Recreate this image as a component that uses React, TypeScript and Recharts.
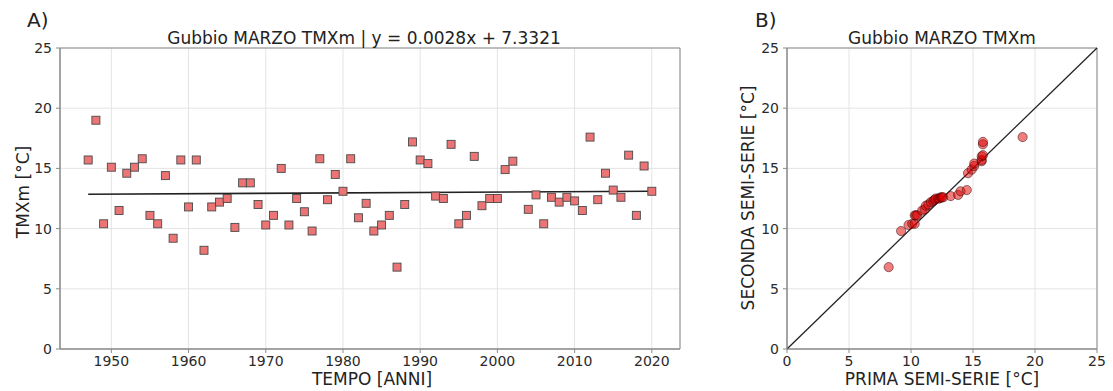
import React from 'react';
import { ComposedChart, Scatter, XAxis, YAxis, CartesianGrid, ReferenceLine, ReferenceArea } from 'recharts';

const years = [1947,1948,1949,1950,1951,1952,1953,1954,1955,1956,1957,1958,1959,1960,1961,1962,1963,1964,1965,1966,1967,1968,1969,1970,1971,1972,1973,1974,1975,1976,1977,1978,1979,1980,1981,1982,1983,1984,1985,1986,1987,1988,1989,1990,1991,1992,1993,1994,1995,1996,1997,1998,1999,2000,2001,2002,2004,2005,2006,2007,2008,2009,2010,2011,2012,2013,2014,2015,2016,2017,2018,2019,2020];
const tmxm = [15.7,19.0,10.4,15.1,11.5,14.6,15.1,15.8,11.1,10.4,14.4,9.2,15.7,11.8,15.7,8.2,11.8,12.2,12.5,10.1,13.8,13.8,12.0,10.3,11.1,15.0,10.3,12.5,11.4,9.8,15.8,12.4,14.5,13.1,15.8,10.9,12.1,9.8,10.3,11.1,6.8,12.0,17.2,15.7,15.4,12.7,12.5,17.0,10.4,11.1,16.0,11.9,12.5,12.5,14.9,15.6,11.6,12.8,10.4,12.6,12.2,12.6,12.3,11.5,17.6,12.4,14.6,13.2,12.6,16.1,11.1,15.2,13.1];

const trendYears = [1947, 2020];
const trendValues = [12.85, 13.1];

const primaSemiSerie = [8.2,9.2,9.8,10.1,10.3,10.3,10.4,10.5,10.9,11.1,11.2,11.4,11.6,11.8,11.9,12.0,12.2,12.3,12.4,12.5,12.6,13.2,13.8,14.0,14.5,14.6,14.9,15.1,15.1,15.7,15.7,15.7,15.8,15.8,15.8,19.0];
const secondaSemiSerie = [6.8,9.8,10.3,10.4,10.4,11.1,11.1,11.1,11.5,11.6,11.9,12.0,12.2,12.3,12.4,12.5,12.5,12.5,12.6,12.6,12.6,12.7,12.8,13.1,13.2,14.6,14.9,15.2,15.4,15.6,15.7,16.0,16.1,17.0,17.2,17.6];

const yearTicks = [1950,1960,1970,1980,1990,2000,2010,2020];
const valueTicks = [0,5,10,15,20,25];

const seriesData = years.map((y, i) => ({ x: y, y: tmxm[i] }));
const qqData = primaSemiSerie.map((p, i) => ({ x: p, y: secondaSemiSerie[i] }));

const FONT = 'DejaVu Sans, sans-serif';
const tickStyle = { fontSize: 14, fill: '#2a2a2a', fontFamily: FONT };
const AXIS = '#8a8a8a';
const GRID = '#e4e4e4';

const Square = (props: any) => {
  const { cx, cy } = props;
  if (cx == null || cy == null) return null;
  return <rect x={cx - 4} y={cy - 4} width={8} height={8} fill="#ec7474" stroke="#4a4a4a" strokeWidth={0.9} />;
};

const Dot = (props: any) => {
  const { cx, cy } = props;
  if (cx == null || cy == null) return null;
  return <circle cx={cx} cy={cy} r={4.6} fill="#e00000" fillOpacity={0.5} stroke="#300000" strokeOpacity={0.55} strokeWidth={0.9} />;
};

const textBase: React.CSSProperties = { position: 'absolute', fontFamily: FONT, color: '#222', whiteSpace: 'nowrap', lineHeight: 1 };

export default function App() {
  return (
    <div style={{ position: 'absolute', left: 0, top: 0, width: 1113, height: 391, background: '#fff' }}>
      <div style={{ position: 'absolute', left: 0, top: 0 }}>
        <ComposedChart width={700} height={391} margin={{ top: 48, right: 20, bottom: 12, left: 0 }}>
          <CartesianGrid stroke={GRID} />
          <XAxis type="number" dataKey="x" domain={[1943.35, 2023.65]} ticks={yearTicks} allowDataOverflow
            tick={tickStyle} tickSize={4} tickMargin={3} stroke={AXIS} height={30} />
          <YAxis type="number" dataKey="y" domain={[0, 25]} ticks={valueTicks} allowDataOverflow
            tick={tickStyle} tickSize={4} tickMargin={4} stroke={AXIS} width={60} />
          <ReferenceArea x1={1943.35} x2={2023.65} y1={0} y2={25} fill="none" stroke={AXIS} strokeWidth={1} ifOverflow="visible" />
          <ReferenceLine segment={[{ x: trendYears[0], y: trendValues[0] }, { x: trendYears[1], y: trendValues[1] }]} stroke="#222" strokeWidth={1.6} ifOverflow="visible" />
          <Scatter data={seriesData} shape={Square} isAnimationActive={false} />
        </ComposedChart>
      </div>
      <div style={{ position: 'absolute', left: 700, top: 0 }}>
        <ComposedChart width={413} height={391} margin={{ top: 48, right: 16, bottom: 12, left: 0 }}>
          <CartesianGrid stroke={GRID} />
          <XAxis type="number" dataKey="x" domain={[0, 25]} ticks={valueTicks} allowDataOverflow
            tick={tickStyle} tickSize={4} tickMargin={3} stroke={AXIS} height={30} />
          <YAxis type="number" dataKey="y" domain={[0, 25]} ticks={valueTicks} allowDataOverflow
            tick={tickStyle} tickSize={4} tickMargin={4} stroke={AXIS} width={87} />
          <ReferenceArea x1={0} x2={25} y1={0} y2={25} fill="none" stroke={AXIS} strokeWidth={1} ifOverflow="visible" />
          <ReferenceLine segment={[{ x: 0, y: 0 }, { x: 25, y: 25 }]} stroke="#222" strokeWidth={1.3} ifOverflow="visible" />
          <Scatter data={qqData} shape={Dot} isAnimationActive={false} />
        </ComposedChart>
      </div>

      <div style={{ ...textBase, left: 27, top: 10, fontSize: 20 }}>A)</div>
      <div style={{ ...textBase, left: 755, top: 10, fontSize: 20 }}>B)</div>
      <div style={{ ...textBase, left: 364, top: 30, fontSize: 17, transform: 'translateX(-50%)' }}>Gubbio MARZO TMXm | y = 0.0028x + 7.3321</div>
      <div style={{ ...textBase, left: 942, top: 30, fontSize: 17, transform: 'translateX(-50%)' }}>Gubbio MARZO TMXm</div>
      <div style={{ ...textBase, left: 372, top: 371, fontSize: 17, transform: 'translateX(-50%)' }}>TEMPO [ANNI]</div>
      <div style={{ ...textBase, left: 942, top: 371, fontSize: 17, transform: 'translateX(-50%)' }}>PRIMA SEMI-SERIE [°C]</div>
      <div style={{ ...textBase, left: 23, top: 192, fontSize: 17, transform: 'translate(-50%, -50%) rotate(-90deg)' }}>TMXm [°C]</div>
      <div style={{ ...textBase, left: 748, top: 198, fontSize: 17, transform: 'translate(-50%, -50%) rotate(-90deg)' }}>SECONDA SEMI-SERIE [°C]</div>
    </div>
  );
}
